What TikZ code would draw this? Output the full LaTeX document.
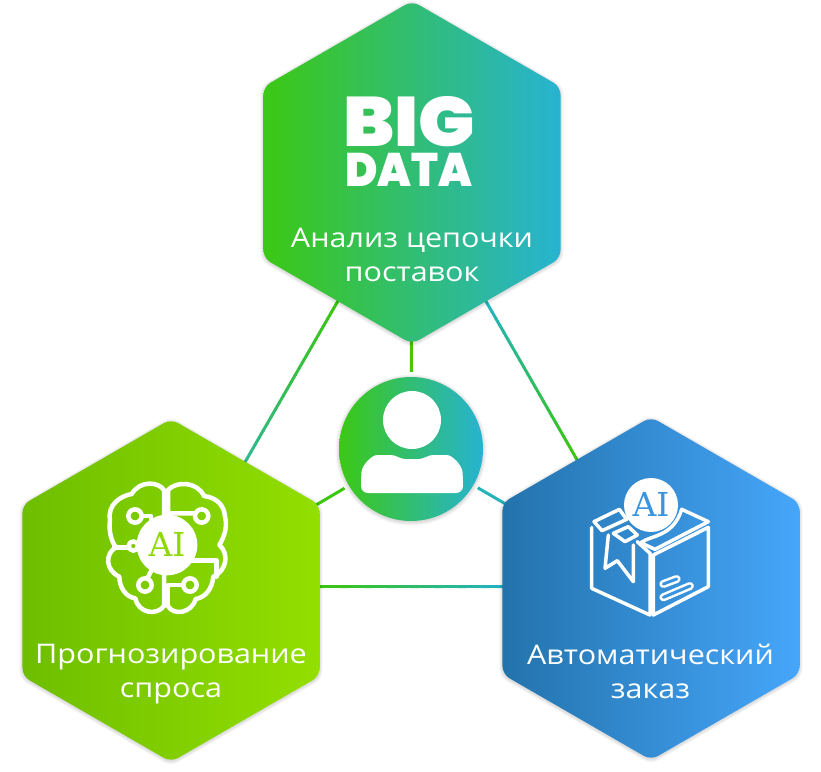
\documentclass[tikz,border=0pt]{standalone}
\usepackage{fontspec}
\setmainfont{Open Sans}
\newfontfamily\labelfont[FakeStretch=1.13]{Open Sans}
\newfontfamily\logofont{Poppins Black}
\newfontfamily\slabfont{DejaVu Serif}
\usetikzlibrary{shapes.geometric,calc}

\definecolor{grnA}{HTML}{3CC814}
\definecolor{grnB}{HTML}{27B3D2}
\definecolor{limeA}{HTML}{6EBE00}
\definecolor{limeB}{HTML}{93DF00}
\definecolor{blueA}{HTML}{2373AC}
\definecolor{blueB}{HTML}{46A6FA}
\definecolor{lineG}{HTML}{3CC60C}
\definecolor{lineT}{HTML}{22B2C4}
\definecolor{lineM}{HTML}{30B890}

\tikzset{
    hexbase/.style={regular polygon, regular polygon sides=6, regular polygon rotate=30, minimum size=343pt, inner sep=0pt, outer sep=0pt, rounded corners=8pt},
    hexshadow/.style={hexbase, fill=black, opacity=0.035},
    hexlabel/.style={text=white, font=\labelfont\fontsize{27}{34}\selectfont, align=center},
    iconline/.style={draw=white, line width=4.5pt, line join=round, line cap=round},
    boxline/.style={draw=white, line width=3.5pt, line join=round, line cap=round},
    spoke/.style={line width=3pt},
    aitext/.style={font=\slabfont\fontsize{33}{33}\selectfont, inner sep=0pt},
}

% straight connector whose colour runs from #3 to #4
\newcommand{\gradline}[4]{
    \foreach \i in {0,1,...,23} {
        \pgfmathsetmacro{\ta}{\i/24}
        \pgfmathsetmacro{\tb}{(\i+1.1)/24}
        \pgfmathsetmacro{\tc}{100*\i/23}
        \draw[#4!\tc!#3, line width=3pt] ($(#1)!\ta!(#2)$) -- ($(#1)!\tb!(#2)$);
    }
}

\begin{document}
\begin{tikzpicture}[x=1pt,y=-1pt]
    \useasboundingbox (0,0) rectangle (821,771);

    % Centres of the hexagons and of the circle
    \coordinate (topc) at (412,172.5);
    \coordinate (leftc) at (171,590.5);
    \coordinate (rightc) at (651,588.5);
    \coordinate (userc) at (411,449);

    % Ends of the triangle between the hexagons
    \coordinate (tla) at ($(topc)!0.30!(leftc)$);
    \coordinate (tlb) at ($(topc)!0.70!(leftc)$);
    \coordinate (tra) at ($(topc)!0.30!(rightc)$);
    \coordinate (trb) at ($(topc)!0.70!(rightc)$);
    \coordinate (bla) at (316,586.5);
    \coordinate (blb) at (505,586.5);

    % The triangle between the hexagons
    \gradline{tla}{tlb}{lineG}{lineM}
    \gradline{tra}{trb}{lineT}{lineG}
    \gradline{bla}{blb}{lineG}{lineT}

    % Spokes from the circle
    \draw[spoke, lineG!70!limeA] (userc) -- (topc);
    \draw[spoke, lineG] (userc) -- (leftc);
    \draw[spoke, lineT!80!lineM] (userc) -- (rightc);
    \node[circle, fill=white, minimum size=154pt, inner sep=0pt] (usergap) at (userc) {};

    % Soft shadows
    \foreach \d in {1,3,5,7} {
        \node[hexshadow, minimum size=343pt+\d pt] at ($(topc)+(0,1)$) {};
        \node[hexshadow, minimum size=343pt+\d pt] at ($(leftc)+(0,1)$) {};
        \node[hexshadow, minimum size=343pt+\d pt] at ($(rightc)+(0,1)$) {};
        \node[circle, inner sep=0pt, fill=black, opacity=0.035, minimum size=144pt+\d pt] at ($(userc)+(0,1)$) {};
    }

    % The three hexagons
    \node[hexbase, left color=grnA, right color=grnB] (tophex) at (topc) {};
    \node[hexbase, left color=limeA, right color=limeB] (lefthex) at (leftc) {};
    \node[hexbase, left color=blueA, right color=blueB] (righthex) at (rightc) {};

    % The circle with the user
    \node[circle, inner sep=0pt, minimum size=144pt, left color=grnA, right color=grnB] (user) at (userc) {};
    \fill[white] (412,420) circle (29);
    \fill[white, rounded corners=7pt] (361,493) -- (361,479) .. controls (362,465) and (372,455) .. (384,455)
        .. controls (396,455) and (400,459) .. (412,459) .. controls (424,459) and (428,455) .. (440,455)
        .. controls (452,455) and (462,465) .. (463,479) -- (463,493) -- cycle;

    % Big data logo
    \node[text=white, inner sep=0pt, anchor=base, xscale=1.07] (biglogo) at (409,146) {\logofont\fontsize{70}{70}\selectfont BIG};
    \node[text=white, inner sep=0pt, anchor=base, xscale=0.93] (datalogo) at (409,186) {\logofont\fontsize{47}{47}\selectfont DATA};

    % Labels
    \node[hexlabel] (toplabel) at (412,255) {Анализ цепочки\\поставок};
    \node[hexlabel] (leftlabel) at (171,674) {Прогнозирование\\спроса};
    \node[hexlabel] (rightlabel) at (650.5,671) {Автоматический\\заказ};

    % Brain icon
    \begin{scope}[shift={(90,470)}, scale=1/3]
        \draw[iconline] (222,60) .. controls (205,35) and (150,30) .. (125,72) .. controls (90,78) and (52,105) .. (60,150)
            .. controls (55,185) and (65,215) .. (78,232) .. controls (45,250) and (45,300) .. (88,320)
            .. controls (88,352) and (108,382) .. (136,385) .. controls (145,430) and (200,438) .. (222,408) -- cycle;
        \draw[iconline] (234,408) .. controls (250,438) and (305,430) .. (317,387) .. controls (347,382) and (367,355) .. (370,320)
            .. controls (412,300) and (417,250) .. (388,225) .. controls (403,200) and (413,170) .. (405,140)
            .. controls (403,105) and (378,82) .. (342,78) .. controls (322,35) and (260,32) .. (234,60) -- (234,130) -- (315,130);
        \draw[iconline] (234,408) -- (234,345) -- (280,345);
        \draw[iconline] (135,138) circle (20);
        \draw[iconline] (335,138) circle (20);
        \draw[iconline] (300,345) circle (20);
        \draw[iconline] (165,345) circle (20);
        \draw[iconline] (130,228) circle (14);
        \draw[iconline] (155,138) -- (183,138) -- (183,165);
        \draw[iconline] (72,232) -- (116,232);
        \draw[iconline] (172,325) -- (185,300);
        \draw[iconline] (300,272) -- (380,272) -- (380,320);
        \fill[white] (231,225) circle (91);
    \end{scope}
    \node[aitext, text=limeB!85!limeA] (brainai) at (167,544) {AI};

    % Box icon
    \begin{scope}[shift={(580,470)}, scale=1/3]
        \draw[boxline] (35,172) -- (35,355) -- (210,435) -- (210,250) -- (172,215);
        \draw[boxline] (220,255) -- (385,172) -- (385,350) -- (220,435) -- cycle;
        \draw[boxline] (42,155) -- (118,118) -- (140,148) -- (66,182) -- cycle;
        \draw[boxline] (100,190) -- (145,170) -- (172,195) -- (135,215) -- cycle;
        \draw[boxline] (182,218) .. controls (215,195) and (280,200) .. (305,118) -- (385,155) -- (225,238) -- cycle;
        \draw[boxline] (85,195) -- (75,295) -- (112,272) -- (160,335) -- (160,225);
        \draw[draw=white, line width=8pt, line cap=round] (250,342) -- (290,327);
        \draw[draw=blueA!35!blueB, line width=3pt, line cap=round] (250,342) -- (290,327);
        \draw[draw=white, line width=8pt, line cap=round] (250,382) -- (330,348);
        \draw[draw=blueA!35!blueB, line width=3pt, line cap=round] (250,382) -- (330,348);
    \end{scope}
    \node[circle, fill=white, minimum size=54pt, inner sep=0pt] (boxdisc) at (651,505) {};
    \node[aitext, text=blueA!35!blueB] (boxai) at (651,504) {AI};
\end{tikzpicture}
\end{document}
